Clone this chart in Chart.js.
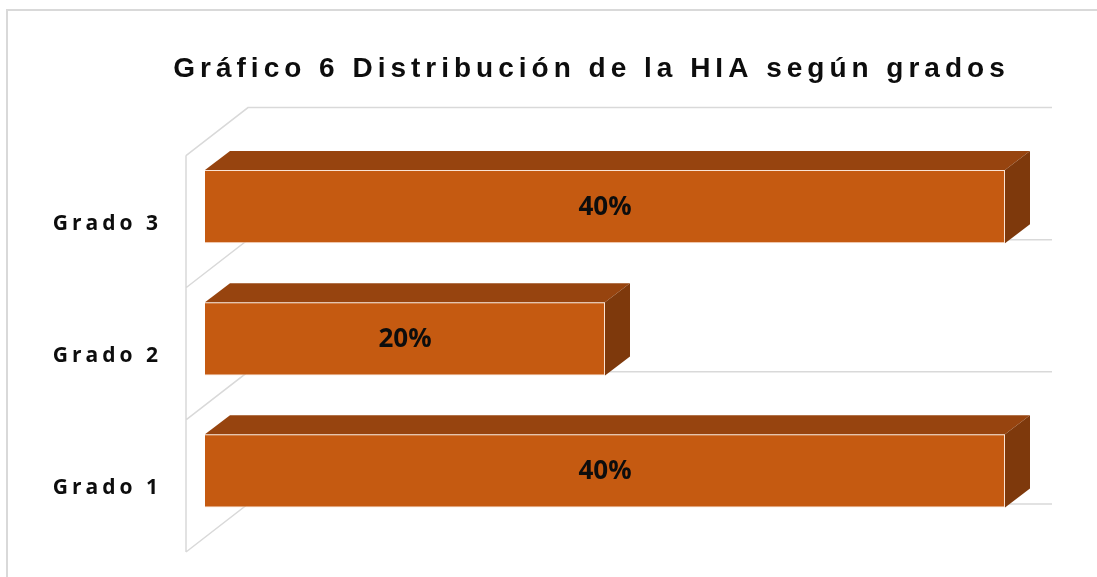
<!DOCTYPE html>
<html>
<head>
<meta charset="utf-8">
<script src="https://cdn.jsdelivr.net/npm/chart.js@4/dist/chart.umd.min.js"></script>
<style>
  html, body { margin: 0; padding: 0; background: #fff; }
  #wrap { width: 1097px; height: 577px; position: relative; }
</style>
</head>
<body>
<div id="wrap"><canvas id="hiaChart"></canvas></div>
<script>
// Gráfico 6 — distribución de la HIA por grado (barras horizontales "3D")
const TITLE = "Gráfico 6 Distribución de la HIA según grados";
const grados = ["Grado 1", "Grado 2", "Grado 3"];
const porcentajes = [0.40, 0.20, 0.40];
const ejeMax = 0.40;     // fin del muro del fondo
const ejeVisible = 0.446; // rango del eje (deja sitio a la derecha)

const FRONT = "#C55A11", TOP = "#97440F", SIDE = "#7E390C", GRID = "#d9d9d9";
const DEPTH = { dx: 25, dy: -19 };       // profundidad de cada barra
const WALL_FRONT = { dx: -19, dy: 15 };  // plano delantero respecto a las barras
const WALL_BACK = { dx: 43, dy: -33 };   // plano del fondo respecto a las barras
const TITLE_SHIFT = 43;                  // el título va algo a la derecha del centro

const pct = (v) => Math.round(v * 100) + "%";

// marco, muro lateral y líneas del fondo
const wallPlugin = {
  id: "wall3d",
  beforeDraw(chart) {
    const ctx = chart.ctx;
    ctx.save();
    ctx.strokeStyle = GRID;
    ctx.lineWidth = 2;
    ctx.beginPath();
    ctx.moveTo(7, chart.height);
    ctx.lineTo(7, 10);
    ctx.lineTo(chart.width, 10);
    ctx.stroke();
    ctx.restore();
    // estilo del título (se deshace antes de las barras)
    ctx.letterSpacing = "5px";
    ctx.translate(TITLE_SHIFT, 0);
  },
  beforeDatasetsDraw(chart) {
    const ctx = chart.ctx, x = chart.scales.x, y = chart.scales.y;
    ctx.translate(-TITLE_SHIFT, 0);
    ctx.letterSpacing = "0px";
    const x0 = x.getPixelForValue(0), x1 = x.getPixelForValue(ejeMax);
    const bounds = [];
    for (let i = 0; i <= grados.length; i++) bounds.push(y.getPixelForValue(i - 0.5));
    const top = Math.min(...bounds), bottom = Math.max(...bounds);
    ctx.save();
    ctx.strokeStyle = GRID;
    ctx.lineWidth = 1.5;
    ctx.beginPath();
    ctx.moveTo(x0 + WALL_FRONT.dx, top + WALL_FRONT.dy);
    ctx.lineTo(x0 + WALL_FRONT.dx, bottom + WALL_FRONT.dy);
    bounds.forEach((b) => {
      ctx.moveTo(x0 + WALL_FRONT.dx, b + WALL_FRONT.dy);
      ctx.lineTo(x0 + WALL_BACK.dx, b + WALL_BACK.dy);
      ctx.lineTo(x1 + WALL_BACK.dx + 4, b + WALL_BACK.dy);
    });
    ctx.stroke();
    ctx.restore();
  },
  afterDatasetsDraw(chart) {
    const ctx = chart.ctx;
    const meta = chart.getDatasetMeta(0);
    ctx.save();
    meta.data.forEach((bar, i) => {
      const p = bar.getProps(["x", "y", "base", "height"], true);
      const xl = p.base, xr = p.x, yt = p.y - p.height / 2, yb = p.y + p.height / 2;
      ctx.fillStyle = TOP;
      ctx.beginPath();
      ctx.moveTo(xl, yt);
      ctx.lineTo(xl + DEPTH.dx, yt + DEPTH.dy);
      ctx.lineTo(xr + DEPTH.dx, yt + DEPTH.dy);
      ctx.lineTo(xr, yt);
      ctx.closePath();
      ctx.fill();
      ctx.fillStyle = SIDE;
      ctx.beginPath();
      ctx.moveTo(xr, yt);
      ctx.lineTo(xr + DEPTH.dx, yt + DEPTH.dy);
      ctx.lineTo(xr + DEPTH.dx, yb + DEPTH.dy);
      ctx.lineTo(xr, yb);
      ctx.closePath();
      ctx.fill();
      // etiqueta de datos
      ctx.fillStyle = "#0d0d0d";
      ctx.font = "bold 26px 'Open Sans', sans-serif";
      ctx.textAlign = "center";
      ctx.textBaseline = "middle";
      ctx.fillText(pct(porcentajes[i]), (xl + xr) / 2, p.y + 1);
    });
    ctx.restore();
    ctx.letterSpacing = "4px"; // para las etiquetas del eje
  },
  afterDraw(chart) {
    chart.ctx.letterSpacing = "0px";
  },
};

new Chart(document.getElementById("hiaChart"), {
  type: "bar",
  data: {
    labels: grados,
    datasets: [{
      data: porcentajes,
      backgroundColor: FRONT,
      borderColor: "rgba(250,220,200,0.8)",
      borderWidth: 1,
      barPercentage: 0.555,
      categoryPercentage: 1,
    }],
  },
  plugins: [wallPlugin],
  options: {
    indexAxis: "y",
    responsive: true,
    maintainAspectRatio: false,
    animation: false,
    layout: { padding: { left: 0, right: 0, top: 0, bottom: 40 } },
    plugins: {
      legend: { display: false },
      tooltip: { enabled: false },
      title: {
        display: true,
        text: TITLE,
        color: "#0d0d0d",
        font: { family: "'Liberation Sans', Arial, sans-serif", size: 28, weight: "bold" },
        padding: { top: 52, bottom: 55 },
      },
    },
    scales: {
      x: { display: false, min: 0, max: ejeVisible },
      y: {
        reverse: true,
        grid: { display: false, drawTicks: false },
        border: { display: false },
        afterFit: (s) => { s.width = 205; s.paddingTop = 0; s.paddingBottom = 0; },
        ticks: {
          z: 1,
          padding: 43,
          labelOffset: 17,
          color: "#0d0d0d",
          font: { family: "'Open Sans', sans-serif", size: 21, weight: "bold" },
        },
      },
    },
  },
});
</script>
</body>
</html>
